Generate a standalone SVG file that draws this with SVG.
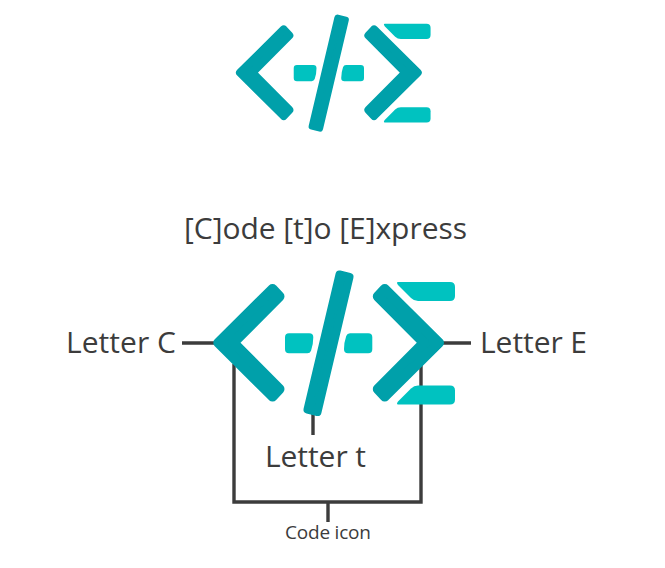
<svg xmlns="http://www.w3.org/2000/svg" width="665" height="568" viewBox="0 0 665 568">
<style>
.dark{fill:#00a0aa;stroke:#00a0aa;stroke-width:10;stroke-linejoin:round}
.slash{fill:#00a0aa;stroke:#00a0aa;stroke-width:8;stroke-linejoin:round}
.light{fill:#00c2c0;stroke:#00c2c0;stroke-width:8;stroke-linejoin:round}
.sharp{fill:#00c2c0}
.line{fill:none;stroke:#3c3c3c;stroke-width:3.4}
text{font-family:"Open Sans","Noto Sans",sans-serif;fill:#3c3c3c}
.big{font-size:30px}
.small{font-size:19px}
</style>
<defs>
<g id="logo">
<path class="dark" d="M272.500 289L279.500 296.500L233.500 342.700L279.500 389L272.500 396.500L218.300 342.700Z"/>
<path class="dark" d="M384.800 289L377.800 296.500L423.800 342.700L377.800 389L384.800 396.500L439 342.700Z"/>
<path class="slash" d="M339.500 274.500L349.500 277L317.500 412L307.500 409.500Z"/>
<path class="light" d="M289 337.300H309.300Q309.300 344 307.300 349.300H289Z"/>
<path class="light" d="M350 337.300H368.300V349.300H348Q348 343 350 337.300Z"/>
<path class="sharp" d="M398 282H450Q455 282 455 287V296Q455 301 450 301H418Q414 301 411 298L398 285Q396 282 398 282Z"/>
<path class="sharp" d="M398 404.500H450Q455 404.500 455 399.500V390.500Q455 385.500 450 385.500H418Q414 385.500 411 388.500L398 401.500Q396 404.500 398 404.500Z"/>
</g>
</defs>
<g id="logo-small"><use href="#logo" transform="translate(64.300 -203.200) scale(.805 .805)"/></g>
<g id="connectors">
<path class="line" d="M182 343H216M442 343H471"/>
<path class="line" d="M234 364V502H421V364"/>
<path class="line" d="M313 414V435M328 502V522"/>
</g>
<g id="logo-large"><use href="#logo"/></g>
<g id="title"><text class="big" x="184" y="239" textLength="283">[C]ode [t]o [E]xpress</text></g>
<g id="label-c"><text class="big" x="66" y="353" textLength="110">Letter C</text></g>
<g id="label-e"><text class="big" x="480" y="353" textLength="107">Letter E</text></g>
<g id="label-t"><text class="big" x="265" y="467" textLength="101">Letter t</text></g>
<g id="label-code"><text class="small" x="285" y="539" textLength="86">Code icon</text></g>
</svg>
